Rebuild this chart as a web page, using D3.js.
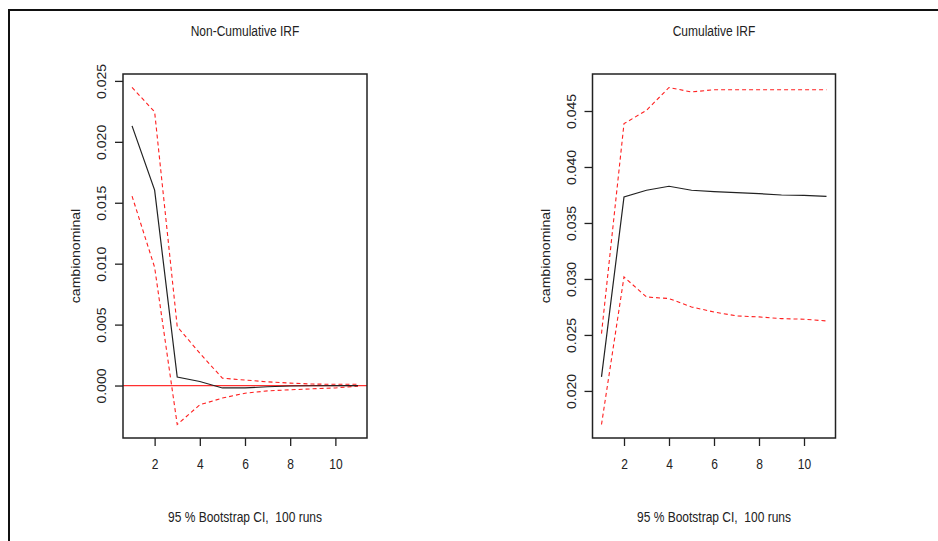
<!DOCTYPE html>
<html>
<head>
<meta charset="utf-8">
<script src="https://cdn.jsdelivr.net/npm/d3@7"></script>
<style>
  html, body { margin: 0; padding: 0; background: #fff; }
  svg { display: block; }
  text { font-family: "Liberation Sans", Arial, sans-serif; fill: #222; white-space: pre; }
</style>
</head>
<body>
<svg id="chart" width="938" height="541"></svg>
<script>
// ---- data ----
const steps = [1, 2, 3, 4, 5, 6, 7, 8, 9, 10, 11];
const xTicks = [2, 4, 6, 8, 10];

const nonCumIrf   = [0.02131, 0.01604, 0.00069, 0.00033, -0.00020, -0.00020, -0.00010, -0.00004, -0.00002, -0.00001, 0.00000];
const nonCumUpper = [0.02446, 0.02246, 0.00484, 0.00265, 0.00060, 0.00045, 0.00030, 0.00020, 0.00012, 0.00010, 0.00010];
const nonCumLower = [0.01555, 0.00970, -0.00320, -0.00158, -0.00103, -0.00063, -0.00044, -0.00035, -0.00027, -0.00020, -0.00005];
const nonCumTicks = [0.000, 0.005, 0.010, 0.015, 0.020, 0.025];

const cumIrf   = [0.02125, 0.03732, 0.03792, 0.03828, 0.03792, 0.03780, 0.03771, 0.03762, 0.03750, 0.03747, 0.03738];
const cumUpper = [0.02512, 0.04387, 0.04506, 0.04710, 0.04670, 0.04690, 0.04690, 0.04690, 0.04690, 0.04690, 0.04690];
const cumLower = [0.01700, 0.03018, 0.02839, 0.02825, 0.02750, 0.02705, 0.02670, 0.02661, 0.02646, 0.02640, 0.02625];
const cumTicks = [0.020, 0.025, 0.030, 0.035, 0.040, 0.045];

const titles = ["Non-Cumulative IRF", "Cumulative IRF"];
const yLabel = "cambionominal";
const subTitle = "95 % Bootstrap CI,  100 runs";

// ---- drawing ----
const svg = d3.select("#chart");
const STRETCH = 1.17;

// outer frame (top and left edges)
svg.append("path")
  .attr("d", "M9,541 L9,10 L938,10")
  .attr("fill", "none").attr("stroke", "#111").attr("stroke-width", 2);

function ext(vals) {
  const lo = d3.min(vals), hi = d3.max(vals), r = hi - lo;
  return [lo - 0.04 * r, hi + 0.04 * r];
}

function panel(opts) {
  const { left, right, top, bottom, irf, upper, lower, yticks, title, zeroLine, yLabelX, yTickX } = opts;
  const g = svg.append("g");
  const x = d3.scaleLinear().domain(ext(steps)).range([left, right]);
  const y = d3.scaleLinear().domain(ext(upper.concat(lower, irf))).range([bottom, top]);

  // zero line
  if (zeroLine) {
    g.append("line")
      .attr("x1", left).attr("x2", right)
      .attr("y1", y(0)).attr("y2", y(0))
      .attr("stroke", "#ff3030").attr("stroke-width", 1.2);
  }

  const line = d3.line().x((d, i) => x(steps[i])).y(d => y(d));

  g.append("path").datum(upper).attr("d", line)
    .attr("fill", "none").attr("stroke", "#ff2020").attr("stroke-width", 1.1)
    .attr("stroke-dasharray", "4,3");
  g.append("path").datum(lower).attr("d", line)
    .attr("fill", "none").attr("stroke", "#ff2020").attr("stroke-width", 1.1)
    .attr("stroke-dasharray", "4,3");
  g.append("path").datum(irf).attr("d", line)
    .attr("fill", "none").attr("stroke", "#222").attr("stroke-width", 1.2);

  // box
  g.append("rect")
    .attr("x", left).attr("y", top)
    .attr("width", right - left).attr("height", bottom - top)
    .attr("fill", "none").attr("stroke", "#222").attr("stroke-width", 1.5);

  // x axis
  const xAxis = g.append("g").attr("transform", `translate(0,${bottom})`)
    .call(d3.axisBottom(x).tickValues(xTicks).tickSize(8).tickPadding(0).tickFormat(d3.format("d")));
  xAxis.select(".domain").remove();
  xAxis.selectAll(".tick line").attr("stroke", "#222").attr("stroke-width", 1.3);
  xAxis.selectAll(".tick text").remove();
  xAxis.selectAll(".tick").append("text")
    .attr("text-anchor", "middle")
    .attr("transform", `translate(0,31) scale(1,${STRETCH})`)
    .attr("font-size", 12)
    .attr("fill", "#222")
    .text(d => d3.format("d")(d));

  // y axis
  const yAxis = g.append("g").attr("transform", `translate(${left},0)`)
    .call(d3.axisLeft(y).tickValues(yticks).tickSize(8).tickFormat(d3.format(".3f")));
  yAxis.select(".domain").remove();
  yAxis.selectAll(".tick line").attr("stroke", "#222").attr("stroke-width", 1.3);
  yAxis.selectAll(".tick text").remove();
  yAxis.selectAll(".tick").append("text")
    .attr("text-anchor", "middle")
    .attr("font-size", 12)
    .attr("fill", "#222")
    .attr("transform", `translate(${yTickX - left + 4.3},0) rotate(-90) scale(${STRETCH},1)`)
    .text(d => d3.format(".3f")(d));

  const cx = (left + right) / 2;
  // title
  g.append("text")
    .attr("text-anchor", "middle").attr("font-size", 12)
    .attr("transform", `translate(${cx},36) scale(1,${STRETCH})`)
    .text(title);
  // subtitle
  g.append("text")
    .attr("text-anchor", "middle").attr("font-size", 12)
    .attr("transform", `translate(${cx},522) scale(1,${STRETCH})`)
    .text(subTitle);
  // y label
  g.append("text")
    .attr("text-anchor", "middle").attr("font-size", 12)
    .attr("transform", `translate(${yLabelX + 4.5},${(top + bottom) / 2}) rotate(-90) scale(${STRETCH},1)`)
    .text(yLabel);
}

panel({ left: 123, right: 367, top: 74, bottom: 438,
  irf: nonCumIrf, upper: nonCumUpper, lower: nonCumLower, yticks: nonCumTicks,
  title: titles[0], zeroLine: true, yLabelX: 75, yTickX: 102 });

panel({ left: 592.5, right: 835.5, top: 74, bottom: 438,
  irf: cumIrf, upper: cumUpper, lower: cumLower, yticks: cumTicks,
  title: titles[1], zeroLine: false, yLabelX: 545, yTickX: 572 });
</script>
</body>
</html>
